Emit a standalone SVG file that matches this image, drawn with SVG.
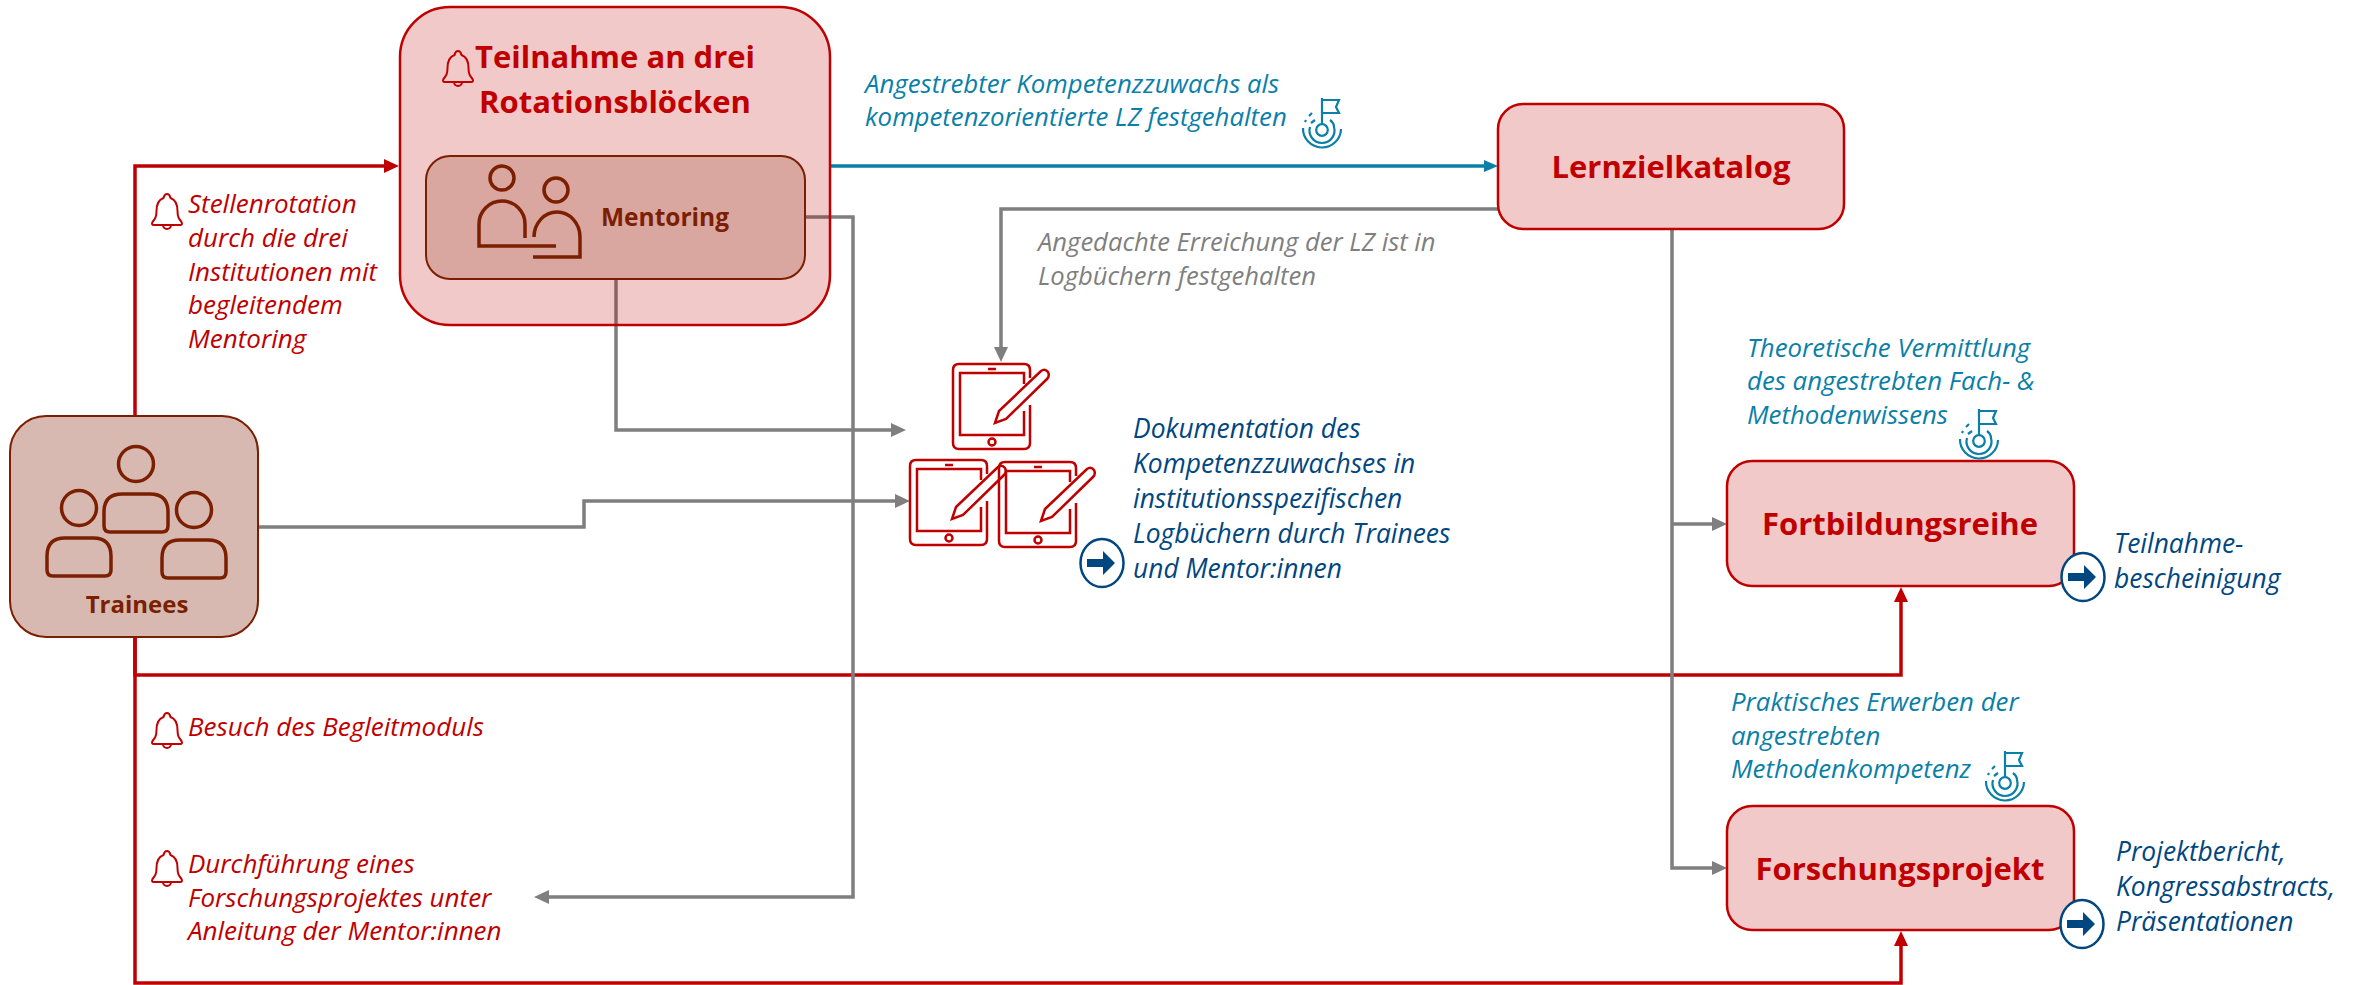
<svg xmlns="http://www.w3.org/2000/svg" width="2358" height="985" viewBox="0 0 2358 985">
<style>
text{font-family:"Open Sans","Noto Sans","Liberation Sans",sans-serif}
.it{font-style:italic;font-size:26px}
.red{fill:#c00000}.teal{fill:#0a7fa8;font-size:25.800px}.navy{fill:#004680;font-size:26.400px}.grey{fill:#7f7f7f;font-size:25.600px}
.h{font-weight:700;font-size:31px;fill:#c00000;text-anchor:middle}
.b{font-weight:700;fill:#7b1f00;font-size:24.500px}
.box{fill:#c00000;fill-opacity:.21;stroke:#c00000;stroke-width:2.5}
.c{fill:none;stroke-width:3.5;stroke-linejoin:miter}
.cr{stroke:#c00000}.cg{stroke:#7f7f7f}.ct{stroke:#0a7fa8}
.ico{fill:none;stroke:#c00000;stroke-width:2.5}
.br{fill:none;stroke:#7b1f00;stroke-width:3.5}
</style>
<defs>
<marker id="mr" markerUnits="userSpaceOnUse" markerWidth="16" markerHeight="16" refX="2" refY="8" orient="auto"><path d="M0,1 L15,8 L0,15Z" fill="#c00000"/></marker>
<marker id="mg" markerUnits="userSpaceOnUse" markerWidth="16" markerHeight="16" refX="2" refY="8" orient="auto"><path d="M0,1 L15,8 L0,15Z" fill="#7f7f7f"/></marker>
<marker id="mt" markerUnits="userSpaceOnUse" markerWidth="16" markerHeight="16" refX="2" refY="8" orient="auto"><path d="M0,2 L14,8 L0,14Z" fill="#0a7fa8"/></marker>
<symbol id="bell" overflow="visible"><path d="M0,-15 C3,-15 3,-12 3.500,-11 C9,-9 10.500,-4 10.500,2 C10.500,8 12,10 14.500,13 Q16,16 13,16 H-13 Q-16,16 -14.500,13 C-12,10 -10.500,8 -10.500,2 C-10.500,-4 -9,-9 -3.500,-11 C-3,-12 -3,-15 0,-15Z M-4,16 A4,4 0 0 0 4,16" fill="none" stroke="#c00000" stroke-width="2"/></symbol>
<symbol id="flag" overflow="visible"><g fill="none" stroke="#0a7fa8" stroke-width="2.200"><circle r="5.800"/><path d="M0,-6 V-32 M0,-30 H17 L14,-23 L17,-17 H0"/><path d="M-19,-2 A19,19 0 1 0 19,-1"/><path d="M-17,-8 L-16,-10 M-13,-14 L-10,-17"/><path d="M-12,-3 A12.500,12.500 0 1 0 12,-3 Q12,-7 8,-10"/><path d="M-11,-7 L-7,-10"/></g></symbol>
<symbol id="tablet" overflow="visible"><g class="ico"><path d="M77,14 V6 Q77,0 71,0 H6 Q0,0 0,6 V79 Q0,85 6,85 H71 Q77,85 77,79 V41"/><path d="M71,20 V9 H7 V71 H71 V47"/><path d="M35,5 H43"/><circle cx="39" cy="78" r="3.500"/><path d="M42,59 L46,47 L88,7 Q92,4 95,8 Q97,12 94,15 L53,55 Z"/></g></symbol>
<symbol id="go" overflow="visible"><ellipse rx="21.500" ry="24" fill="#fff" stroke="#004680" stroke-width="2.500"/><path d="M-15,-4 H1 V-12 L13,0 L1,12 V4 H-15Z" fill="#004680"/></symbol>
<symbol id="person" overflow="visible"><g class="br"><circle r="17.500"/><path d="M-14,30 H14 Q32,30 32,48 V62 Q32,68 26,68 H-26 Q-32,68 -32,62 V48 Q-32,30 -14,30Z"/></g></symbol>
</defs>

<g id="connectors">
<path class="c cr" d="M135,416 V166 H386" marker-end="url(#mr)"/>
<path class="c cr" d="M135,637 V675 H1901 V600" marker-end="url(#mr)"/>
<path class="c cr" d="M135,637 V983 H1901 V944" marker-end="url(#mr)"/>
<path class="c ct" d="M830,166 H1486" marker-end="url(#mt)"/>
<path class="c cg" d="M805,217 H853 V897 H547" marker-end="url(#mg)"/>
<path class="c cg" d="M616,279 V430 H893" marker-end="url(#mg)"/>
<path class="c cg" d="M258,527 H584 V501 H897" marker-end="url(#mg)"/>
<path class="c cg" d="M1498,209 H1001 V349" marker-end="url(#mg)"/>
<path class="c cg" d="M1672,229 V868 H1714" marker-end="url(#mg)"/>
<path class="c cg" d="M1672,524 H1714" marker-end="url(#mg)"/>
</g>

<g id="node-rotation">
<rect class="box" x="400" y="7" width="430" height="318" rx="50"/>
<use href="#bell" x="458" y="66"/>
<text class="h" x="615" y="68">Teilnahme an drei</text>
<text class="h" x="615" y="113">Rotationsblöcken</text>
</g>
<g id="node-mentoring">
<rect x="426" y="156" width="379" height="123" rx="24" fill="#7b1f00" fill-opacity=".2" stroke="#7b1f00" stroke-width="2"/>
<circle class="br" cx="502" cy="178" r="12"/>
<circle class="br" cx="556" cy="190" r="12"/>
<path class="br" d="M525,238 V224 A23,23 0 0 0 479,224 V246 H556"/>
<path class="br" d="M534,237 A23,25 0 0 1 580,237 V257 H533"/>
<text class="b" x="601" y="226">Mentoring</text>
</g>
<g id="node-trainees">
<rect x="10" y="416" width="248" height="221" rx="36" fill="#d7b9b1" stroke="#7b1f00" stroke-width="2"/>
<use href="#person" x="136" y="464"/>
<use href="#person" x="79" y="508"/>
<use href="#person" x="194" y="510"/>
<text class="b" x="137" y="613" text-anchor="middle" style="font-size:24px">Trainees</text>
</g>
<g id="node-lernziel">
<rect class="box" x="1498" y="104" width="346" height="125" rx="25"/>
<text class="h" x="1671" y="178">Lernzielkatalog</text>
</g>
<g id="node-fortbildung">
<rect class="box" x="1727" y="461" width="347" height="125" rx="25"/>
<text class="h" x="1900" y="535">Fortbildungsreihe</text>
</g>
<g id="node-forschung">
<rect class="box" x="1727" y="806" width="347" height="124" rx="25"/>
<text class="h" x="1900" y="880">Forschungsprojekt</text>
</g>

<g id="node-logbuecher">
<use href="#tablet" x="953" y="364"/>
<use href="#tablet" x="910" y="460"/>
<use href="#tablet" x="999" y="462"/>
<use href="#go" x="1102" y="563"/>
<text class="it navy"><tspan x="1133" y="438">Dokumentation des</tspan><tspan x="1133" y="473">Kompetenzzuwachses in</tspan><tspan x="1133" y="508">institutionsspezifischen</tspan><tspan x="1133" y="543">Logbüchern durch Trainees</tspan><tspan x="1133" y="578">und Mentor:innen</tspan></text>
</g>

<g id="label-stellen">
<use href="#bell" x="167" y="209"/>
<text class="it red"><tspan x="188" y="213">Stellenrotation</tspan><tspan x="188" y="247">durch die drei</tspan><tspan x="188" y="281">Institutionen mit</tspan><tspan x="188" y="314">begleitendem</tspan><tspan x="188" y="348">Mentoring</tspan></text>
</g>
<g id="label-besuch">
<use href="#bell" x="167" y="728"/>
<text class="it red" x="188" y="736">Besuch des Begleitmoduls</text>
</g>
<g id="label-durchfuehrung">
<use href="#bell" x="167" y="866"/>
<text class="it red"><tspan x="188" y="873">Durchführung eines</tspan><tspan x="188" y="907">Forschungsprojektes unter</tspan><tspan x="188" y="940">Anleitung der Mentor:innen</tspan></text>
</g>
<g id="label-kompetenz">
<text class="it teal"><tspan x="865" y="93">Angestrebter Kompetenzzuwachs als</tspan><tspan x="865" y="126">kompetenzorientierte LZ festgehalten</tspan></text>
<use href="#flag" x="1322" y="130"/>
</g>
<g id="label-logbuch-lz">
<text class="it grey"><tspan x="1038" y="251">Angedachte Erreichung der LZ ist in</tspan><tspan x="1038" y="285">Logbüchern festgehalten</tspan></text>
</g>
<g id="label-theorie">
<text class="it teal"><tspan x="1747" y="357">Theoretische Vermittlung</tspan><tspan x="1747" y="390">des angestrebten Fach- &amp;</tspan><tspan x="1747" y="424">Methodenwissens</tspan></text>
<use href="#flag" x="1979" y="441"/>
</g>
<g id="label-teilnahme">
<use href="#go" x="2083" y="577"/>
<text class="it navy"><tspan x="2114" y="553">Teilnahme-</tspan><tspan x="2114" y="588">bescheinigung</tspan></text>
</g>
<g id="label-praxis">
<text class="it teal"><tspan x="1731" y="711">Praktisches Erwerben der</tspan><tspan x="1731" y="745">angestrebten</tspan><tspan x="1731" y="778">Methodenkompetenz</tspan></text>
<use href="#flag" x="2005" y="783"/>
</g>
<g id="label-projekt">
<use href="#go" x="2082" y="924"/>
<text class="it navy"><tspan x="2116" y="861">Projektbericht,</tspan><tspan x="2116" y="896">Kongressabstracts,</tspan><tspan x="2116" y="931">Präsentationen</tspan></text>
</g>
</svg>
